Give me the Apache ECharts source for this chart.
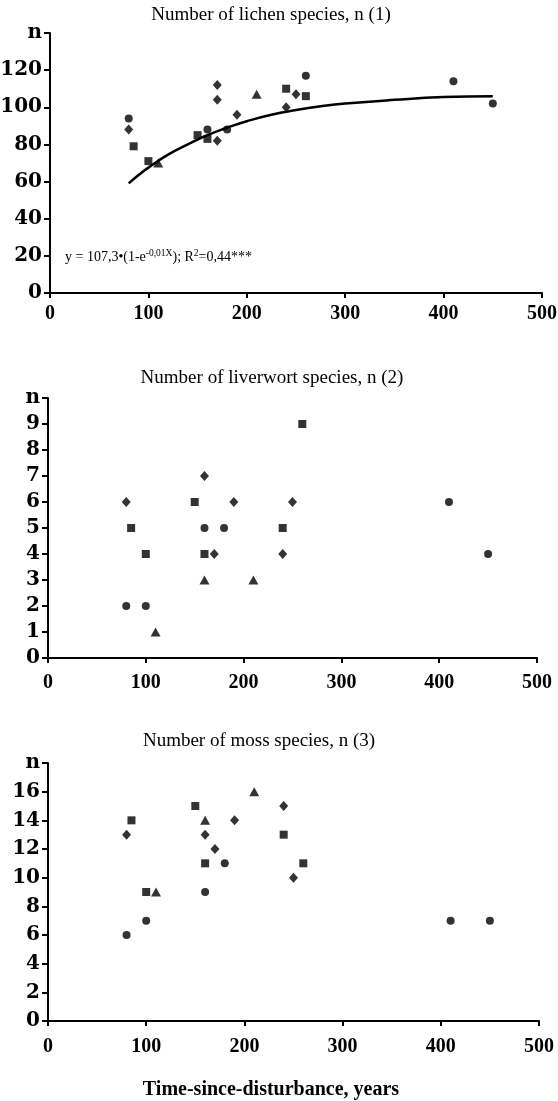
<!DOCTYPE html>
<html>
<head>
<meta charset="utf-8">
<title>Species number vs time since disturbance</title>
<script src="https://cdn.jsdelivr.net/npm/echarts@6/dist/echarts.min.js"></script>
<style>
    html, body { margin: 0; padding: 0; background: #fff; }
    #main { width: 558px; height: 1101px; }
</style>
</head>
<body>
<div id="main"></div>
<script>
// lichens (1)
var lichenCircle = [[80, 94], [160, 88], [180, 88], [260, 117], [410, 114], [450, 102]];
var lichenDiamond = [[80, 88], [170, 112], [170, 104], [170, 82], [190, 96], [240, 100], [250, 107]];
var lichenSquare = [[85, 79], [100, 71], [150, 85], [160, 83], [240, 110], [260, 106]];
var lichenTriangle = [[110, 70], [210, 107]];
// fitted curve
var lichenFitX = [80, 90, 100, 120, 140, 160, 180, 200, 225, 250, 275, 300, 350, 400, 450];
var lichenFitY = [59, 63.5, 67.5, 74.5, 80, 85, 89, 92.5, 96, 98.5, 100.5, 102, 104, 105.5, 106];

// liverworts (2)
var liverCircle = [[80, 2], [100, 2], [160, 5], [180, 5], [410, 6], [450, 4]];
var liverDiamond = [[80, 6], [160, 7], [170, 4], [190, 6], [240, 4], [250, 6]];
var liverSquare = [[85, 5], [100, 4], [150, 6], [160, 4], [240, 5], [260, 9]];
var liverTriangle = [[110, 1], [160, 3], [210, 3]];

// mosses (3)
var mossCircle = [[80, 6], [100, 7], [160, 9], [180, 11], [410, 7], [450, 7]];
var mossDiamond = [[80, 13], [160, 13], [170, 12], [190, 14], [240, 15], [250, 10]];
var mossSquare = [[85, 14], [100, 9], [150, 15], [160, 11], [240, 13], [260, 11]];
var mossTriangle = [[110, 9], [160, 14], [210, 16]];

var titles = ['Number of lichen species, n (1)', 'Number of liverwort species, n (2)', 'Number of moss species, n (3)'];
var yMax = [140, 10, 18];
var yStep = [20, 1, 2];

var chart = echarts.init(document.getElementById('main'), null, {renderer: 'canvas'});

var serif = 'Liberation Serif';

function xAxisFor(i, margin) {
    return {
        type: 'value', gridIndex: i, min: 0, max: 500, interval: 100,
        axisLine: {lineStyle: {color: '#000', width: 2}},
        axisTick: {show: true, length: 5, lineStyle: {color: '#000', width: 2}},
        splitLine: {show: false},
        axisLabel: {color: '#000', fontFamily: serif, fontWeight: 'bold', fontSize: 20, margin: margin}
    };
}

function yAxisFor(i) {
    return {
        type: 'value', gridIndex: i, min: 0, max: yMax[i], interval: yStep[i],
        axisLine: {show: true, lineStyle: {color: '#000', width: 2}},
        axisTick: {show: true, length: 6, lineStyle: {color: '#000', width: 2}},
        splitLine: {show: false},
        axisLabel: {
            color: '#000', fontFamily: 'DejaVu Serif', fontWeight: 'bold', fontSize: 20, margin: 8,
            showMaxLabel: true,
            formatter: function (v) { return v === yMax[i] ? 'n' : String(v); }
        }
    };
}

function dots(i, shape, data, size) {
    return {
        type: 'scatter', xAxisIndex: i, yAxisIndex: i,
        symbol: shape, symbolSize: size, data: data,
        itemStyle: {color: '#000'}, silent: true
    };
}

var fit = [];
for (var k = 0; k < lichenFitX.length; k++) fit.push([lichenFitX[k], lichenFitY[k]]);

var circle = 8, square = [8, 8], diamond = [9, 10], triangle = [10, 9];

var option = {
    backgroundColor: '#fff',
    animation: false,
    grid: [
        {left: 50, top: 33, width: 492, height: 260, outerBoundsMode: 'none'},
        {left: 48, top: 398, width: 489, height: 260, outerBoundsMode: 'none'},
        {left: 48, top: 763, width: 491, height: 258, outerBoundsMode: 'none'}
    ],
    xAxis: [xAxisFor(0, 11), xAxisFor(1, 15), xAxisFor(2, 16)],
    yAxis: [yAxisFor(0), yAxisFor(1), yAxisFor(2)],
    series: [
        {
            type: 'line', xAxisIndex: 0, yAxisIndex: 0, data: fit,
            smooth: true, showSymbol: false, silent: true,
            lineStyle: {color: '#000', width: 2.5}
        },
        dots(0, 'circle', lichenCircle, circle),
        dots(0, 'diamond', lichenDiamond, diamond),
        dots(0, 'rect', lichenSquare, square),
        dots(0, 'triangle', lichenTriangle, triangle),

        dots(1, 'circle', liverCircle, circle),
        dots(1, 'diamond', liverDiamond, diamond),
        dots(1, 'rect', liverSquare, square),
        dots(1, 'triangle', liverTriangle, triangle),

        dots(2, 'circle', mossCircle, circle),
        dots(2, 'diamond', mossDiamond, diamond),
        dots(2, 'rect', mossSquare, square),
        dots(2, 'triangle', mossTriangle, triangle)
    ],
    graphic: [
        {type: 'text', x: 271, y: 15, style: {text: titles[0], align: 'center', verticalAlign: 'middle', fill: '#000', font: '19px "Liberation Serif"'}},
        {type: 'text', x: 272, y: 378, style: {text: titles[1], align: 'center', verticalAlign: 'middle', fill: '#000', font: '19px "Liberation Serif"'}},
        {type: 'text', x: 259, y: 741, style: {text: titles[2], align: 'center', verticalAlign: 'middle', fill: '#000', font: '19px "Liberation Serif"'}},
        {type: 'text', x: 271, y: 1090, style: {text: 'Time-since-disturbance, years', align: 'center', verticalAlign: 'middle', fill: '#000', font: 'bold 20px "Liberation Serif"'}},
        {
            type: 'text', x: 65, y: 257,
            style: {
                text: '{a|y = 107,3•(1-e}{s|-0,01X}{a|); R}{s|2}{a|=0,44***}',
                align: 'left', verticalAlign: 'middle', fill: '#000',
                rich: {
                    a: {fontFamily: serif, fontSize: 14, lineHeight: 18, fill: '#000'},
                    s: {fontFamily: serif, fontSize: 9.5, lineHeight: 10, verticalAlign: 'top', fill: '#000'}
                }
            }
        }
    ]
};

chart.setOption(option);
</script>
</body>
</html>
